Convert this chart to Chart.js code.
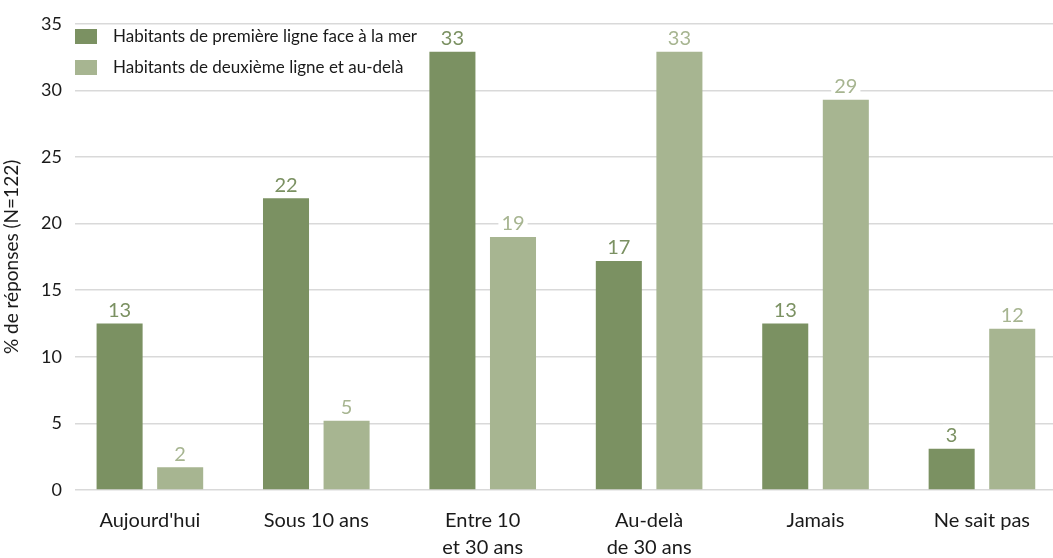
<!DOCTYPE html>
<html>
<head>
<meta charset="utf-8">
<script src="https://cdn.jsdelivr.net/npm/chart.js@4.4.1/dist/chart.umd.min.js"></script>
<style>
html,body{margin:0;padding:0;background:#fff;overflow:hidden;}
#wrap{width:1053px;height:558px;position:relative;}
</style>
</head>
<body>
<div id="wrap"><canvas id="c" width="1053" height="558"></canvas></div>
<script>
const categories = ["Aujourd'hui", "Sous 10 ans", ["Entre 10", "et 30 ans"], ["Au-delà", "de 30 ans"], "Jamais", "Ne sait pas"];
const seriesNames = ["Habitants de première ligne face à la mer", "Habitants de deuxième ligne et au-delà"];
const firstLine = [12.5, 21.9, 32.9, 17.2, 12.5, 3.1];
const secondLine = [1.7, 5.2, 19.0, 32.9, 29.3, 12.1];
const firstLabels = ["13", "22", "33", "17", "13", "3"];
const secondLabels = ["2", "5", "19", "33", "29", "12"];
const yTicks = [0, 5, 10, 15, 20, 25, 30, 35];
const yTitle = "% de réponses (N=122)";

const DARK = '#7b9162';
const LIGHT = '#a7b591';
const FONT = "Lato, 'Open Sans', 'DejaVu Sans', sans-serif";

const toPts = arr => arr.map((v, i) => ({x: i, y: v}));

const labelPlugin = {
  id: 'valueLabels',
  afterDatasetsDraw(chart) {
    const ctx = chart.ctx;
    const lbls = [firstLabels, secondLabels];
    const cols = [DARK, LIGHT];
    ctx.save();
    ctx.font = "20px " + FONT;
    ctx.textAlign = 'center';
    ctx.textBaseline = 'middle';
    chart.data.datasets.forEach((ds, di) => {
      const meta = chart.getDatasetMeta(di);
      meta.data.forEach((bar, i) => {
        const t = lbls[di][i];
        const w = ctx.measureText(t).width;
        const cy = bar.y - 14;
        ctx.fillStyle = '#ffffff';
        ctx.fillRect(bar.x - w / 2 - 3, cy - 10, w + 6, 20);
        ctx.fillStyle = cols[di];
        ctx.fillText(t, bar.x, cy + 1);
      });
    });
    ctx.restore();
  }
};

const legendPlugin = {
  id: 'insideLegend',
  afterDraw(chart) {
    const ctx = chart.ctx;
    const left = chart.chartArea.left;
    ctx.save();
    ctx.font = "17px " + FONT;
    ctx.textAlign = 'left';
    ctx.textBaseline = 'middle';
    chart.data.datasets.forEach((ds, i) => {
      const y = 29 + i * 31;
      ctx.fillStyle = ds.backgroundColor;
      ctx.fillRect(left, y, 22, 15);
      ctx.fillStyle = '#1a1a1a';
      ctx.fillText(ds.label, left + 38, y + 8);
    });
    ctx.restore();
  }
};

new Chart(document.getElementById('c'), {
  type: 'bar',
  data: {
    datasets: [
      {label: seriesNames[0], data: toPts(firstLine), backgroundColor: DARK, categoryPercentage: 0.728, barPercentage: 0.76},
      {label: seriesNames[1], data: toPts(secondLine), backgroundColor: LIGHT, categoryPercentage: 0.728, barPercentage: 0.76}
    ]
  },
  options: {
    responsive: false,
    animation: false,
    devicePixelRatio: 1,
    layout: {padding: {top: 21, right: 0, left: 0, bottom: 0}},
    plugins: {legend: {display: false}, tooltip: {enabled: false}},
    scales: {
      x: {
        type: 'linear',
        offset: false,
        min: -0.45,
        max: 5.427,
        grid: {display: false},
        border: {display: false},
        afterBuildTicks: s => { s.ticks = categories.map((c, i) => ({value: i})); },
        afterFit: s => { s.height = 68; },
        ticks: {
          autoSkip: false,
          maxRotation: 0,
          padding: 9,
          color: '#1a1a1a',
          font: {family: FONT, size: 20, lineHeight: 1.35},
          callback: v => categories[v]
        }
      },
      y: {
        min: 0,
        max: 35,
        afterBuildTicks: s => { s.ticks = yTicks.map(v => ({value: v})); },
        afterFit: s => { s.width = 75; },
        grid: {color: '#d9d9d9', lineWidth: 1.5, drawTicks: false},
        border: {display: false},
        ticks: {
          padding: 13,
          color: '#1a1a1a',
          font: {family: FONT, size: 18}
        },
        title: {
          display: true,
          text: yTitle,
          color: '#1a1a1a',
          font: {family: FONT, size: 19},
          padding: {top: 0, bottom: 0}
        }
      }
    }
  },
  plugins: [labelPlugin, legendPlugin]
});
</script>
</body>
</html>
